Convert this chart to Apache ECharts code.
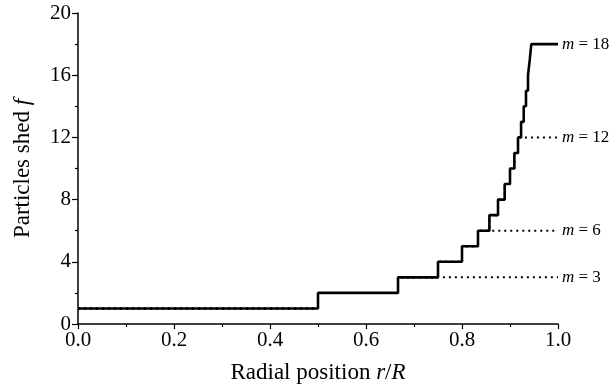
<!DOCTYPE html>
<html>
<head>
<meta charset="utf-8">
<script src="https://cdn.jsdelivr.net/npm/echarts@6/dist/echarts.min.js"></script>
<style>
  html, body { margin: 0; padding: 0; background: #fff; }
  #chart { width: 611px; height: 389px; }
</style>
</head>
<body>
<div id="chart"></div>
<script>
// step positions r/R where f jumps to the next level
const stepPositions = [0, 0.5, 0.6667, 0.75, 0.8, 0.8333, 0.8571, 0.875, 0.8889, 0.9,
  0.9091, 0.9167, 0.9231, 0.9286, 0.9333, 0.9375, 0.9412, 0.9444];
const stepLevels = [1, 2, 3, 4, 5, 6, 7, 8, 9, 10, 11, 12, 13, 14, 15, 16, 17, 18];
// caps m, solid first entry, dotted the rest
const caps = [18, 12, 6, 3];
const xEnd = 1.0;

const serif = "'Liberation Serif', 'Times New Roman', Times, serif";

function buildSteps(m) {
  let pts = [];
  for (let i = 0; i < stepPositions.length; i++) {
    if (stepLevels[i] <= m) pts.push([stepPositions[i], stepLevels[i]]);
  }
  pts.push([xEnd, m]);
  return pts;
}

let series = caps.map(function (m, idx) {
  let solid = idx === 0;
  return {
    name: "m=" + m,
    type: "line",
    step: "end",
    data: buildSteps(m),
    showSymbol: false,
    symbol: "none",
    z: solid ? 5 : 3,
    lineStyle: {
      color: "#000",
      width: solid ? 2.6 : 2,
      type: solid ? "solid" : [2, 4],
    },
    endLabel: {
      show: true,
      distance: 4,
      formatter: "{i|m} = " + m,
      color: "#000",
      fontFamily: serif,
      fontSize: 17,
      rich: {
        i: { fontStyle: "italic", fontFamily: serif, fontSize: 17, color: "#000" },
      },
    },
    animation: false,
  };
});

let chart = echarts.init(document.getElementById("chart"));
chart.setOption({
  animation: false,
  grid: { left: 78, right: 53, top: 13, bottom: 64 },
  xAxis: {
    type: "value",
    min: 0,
    max: 1,
    interval: 0.2,
    name: "Radial position {i|r}/{i|R}",
    nameLocation: "middle",
    nameGap: 37,
    nameTextStyle: {
      fontFamily: serif,
      fontSize: 23,
      color: "#000",
      rich: { i: { fontStyle: "italic", fontFamily: serif, fontSize: 23, color: "#000" } },
    },
    axisLine: { show: true, lineStyle: { color: "#000", width: 1.5 } },
    axisTick: { show: true, length: 5, lineStyle: { color: "#000", width: 1.2 } },
    minorTick: { show: true, splitNumber: 2, length: 3, lineStyle: { color: "#000", width: 1.2 } },
    splitLine: { show: false },
    axisLabel: {
      formatter: function (v) { return v.toFixed(1); },
      fontFamily: serif,
      fontSize: 21,
      color: "#000",
      margin: 6,
    },
  },
  yAxis: {
    type: "value",
    min: 0,
    max: 20,
    interval: 4,
    name: "Particles shed {i|f}",
    nameLocation: "middle",
    nameGap: 44,
    nameTextStyle: {
      fontFamily: serif,
      fontSize: 23,
      color: "#000",
      rich: { i: { fontStyle: "italic", fontFamily: serif, fontSize: 23, color: "#000" } },
    },
    axisLine: { show: true, lineStyle: { color: "#000", width: 1.5 } },
    axisTick: { show: true, length: 6, lineStyle: { color: "#000", width: 1.2 } },
    minorTick: { show: true, splitNumber: 2, length: 3, lineStyle: { color: "#000", width: 1.2 } },
    splitLine: { show: false },
    axisLabel: {
      fontFamily: serif,
      fontSize: 21,
      color: "#000",
      margin: 7,
    },
  },
  series: series,
});
</script>
</body>
</html>
